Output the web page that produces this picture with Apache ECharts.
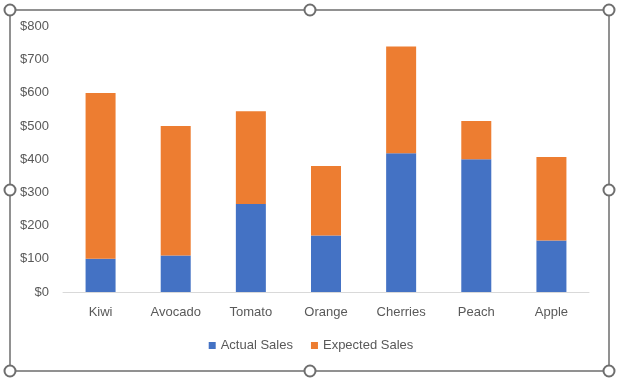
<!DOCTYPE html>
<html>
<head>
<meta charset="utf-8">
<script src="https://cdn.jsdelivr.net/npm/echarts@6/dist/echarts.min.js"></script>
<style>
html,body{margin:0;padding:0;background:#fff;}
#c{width:622px;height:384px;}
</style>
</head>
<body>
<div id="c"></div>
<script>
const categories = ['Kiwi', 'Avocado', 'Tomato', 'Orange', 'Cherries', 'Peach', 'Apple'];
const actualSales = [100, 110, 265, 170, 418, 400, 155];
const expectedSales = [500, 390, 280, 210, 322, 115, 252];
const yTicks = [0, 100, 200, 300, 400, 500, 600, 700, 800];

const chart = echarts.init(document.getElementById('c'), null, {renderer: 'canvas'});
const font = '"Liberation Sans", Arial, sans-serif';
const txt = '#595959';
const frame = '#6e6e6e';
const handles = [[10,10],[310,10],[609,10],[10,190],[609,190],[10,371],[310,371],[609,371]];

chart.setOption({
  animation: false,
  textStyle: {fontFamily: font},
  grid: {left: 63, right: 33, top: 26.5, bottom: 92, containLabel: false},
  legend: {
    data: ['Actual Sales', 'Expected Sales'],
    bottom: 27,
    left: 'center',
    itemWidth: 7, itemHeight: 7, itemGap: 18,
    icon: 'rect',
    textStyle: {color: txt, fontSize: 13, fontFamily: font}
  },
  xAxis: {
    type: 'category',
    data: categories,
    axisLine: {lineStyle: {color: '#d9d9d9', width: 1}},
    axisTick: {show: false},
    axisLabel: {color: txt, fontSize: 13, margin: 14, fontFamily: font}
  },
  yAxis: {
    type: 'value',
    min: yTicks[0], max: yTicks[yTicks.length - 1], interval: 100,
    axisLine: {show: false},
    axisTick: {show: false},
    splitLine: {show: false},
    axisLabel: {color: txt, fontSize: 13, margin: 14, fontFamily: font,
      formatter: v => '$' + v}
  },
  series: [
    {name: 'Actual Sales', type: 'bar', stack: 's', data: actualSales, barWidth: 30,
     itemStyle: {color: '#4472C4'}},
    {name: 'Expected Sales', type: 'bar', stack: 's', data: expectedSales, barWidth: 30,
     itemStyle: {color: '#ED7D31'}}
  ],
  graphic: [
    {type: 'rect', shape: {x: 10, y: 10, width: 599, height: 361},
     style: {fill: 'none', stroke: frame, lineWidth: 1.5}, silent: true}
  ].concat(handles.map(p => ({
    type: 'circle', shape: {cx: p[0], cy: p[1], r: 5.5},
    style: {fill: '#fff', stroke: frame, lineWidth: 2}, silent: true, z: 100
  })))
});
</script>
</body>
</html>
